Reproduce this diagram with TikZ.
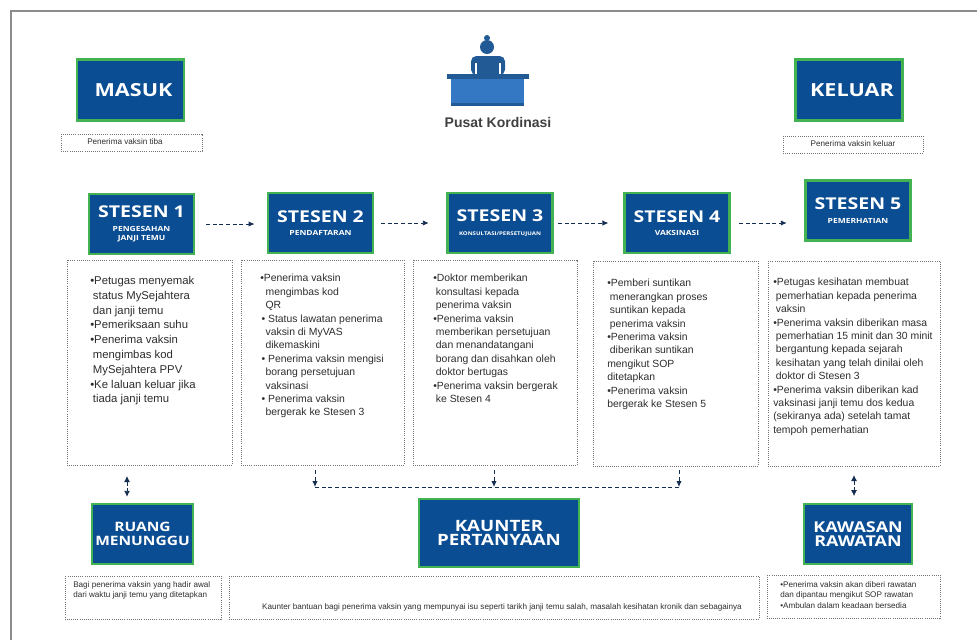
\documentclass[tikz,border=0pt]{standalone}
\usepackage{fontspec}
\setmainfont{Liberation Sans}
\newfontfamily\titlefont[FakeStretch=1.2]{Open Sans}
\usepackage{tikz}
\usetikzlibrary{positioning}
\usetikzlibrary{arrows.meta}
\definecolor{boxnavy}{RGB}{11,77,146}
\definecolor{boxgreen}{RGB}{66,178,82}
\definecolor{deskblue}{RGB}{52,120,196}
\definecolor{desknavy}{RGB}{34,90,150}
\definecolor{flowink}{RGB}{20,45,80}
\definecolor{bodyink}{RGB}{45,45,45}
\newcommand{\stnname}[1]{{\fontsize{12.2}{14}\selectfont\titlefont\bfseries #1}}
\newcommand{\stnsub}[1]{{\fontsize{5.3}{7}\selectfont\titlefont\bfseries #1}}
\tikzset{
    titlebox/.style={draw=boxgreen,fill=boxnavy,line width=1.8pt,text=white,align=center,
        inner sep=0pt,minimum width=79pt,minimum height=45pt,font=\fontsize{7}{7}\selectfont\titlefont\bfseries},
    dotbox/.style={draw=black!55,densely dotted,line width=0.6pt},
    bodytext/.style={anchor=north west,align=left,inner sep=0pt,text=bodyink,
        font=\fontsize{7.8}{10.05}\selectfont},
    smalltext/.style={align=left,inner sep=0pt,text=bodyink,font=\fontsize{6.1}{8}\selectfont},
    flowline/.style={draw=flowink,densely dashed,line width=0.7pt,-{Latex[length=4.5pt,width=4pt]}},
    bothline/.style={draw=flowink,densely dashed,line width=0.7pt,{Latex[length=4.5pt,width=4.5pt]}-{Latex[length=4.5pt,width=4.5pt]}}
}
\begin{document}
\begin{tikzpicture}[x=0.75pt,y=-0.75pt]
    \useasboundingbox (0,0) rectangle (977,640);
    % outer frame
    \draw[black!45,line width=0.9pt] (11,640) -- (11,11) -- (977,11);
    % top row
    \node[titlebox,minimum width=80pt,minimum height=46pt,font=\fontsize{13.5}{18}\selectfont\titlefont\bfseries] at (130.5,90) (nmasuk) {\hspace{4.5pt}MASUK};
    \node[titlebox,minimum width=80pt,minimum height=46pt,font=\fontsize{13.5}{18}\selectfont\titlefont\bfseries] at (849,90) (nkeluar) {\hspace{4.5pt}KELUAR};
    \draw[dotbox] (61,134) rectangle (202,151);
    \node[smalltext] at (125,142) (nmasukd) {Penerima vaksin tiba};
    \draw[dotbox] (783,136) rectangle (923,153);
    \node[smalltext] at (853,144) (nkeluard) {Penerima vaksin keluar};
    % desk and person
    \fill[deskblue] (451,78) rectangle (524,105);
    \fill[desknavy] (447,74) rectangle (529,79);
    \fill[desknavy] (451,103) rectangle (524,106);
    \fill[desknavy] (487,38) circle (3);
    \fill[desknavy] (487,47) circle (7);
    \fill[desknavy,rounded corners=4pt] (471,75) -- (471,56) -- (505,56) -- (505,75) -- cycle;
    \fill[white] (475,63) rectangle (477,74);
    \fill[white] (499,63) rectangle (501,74);
    \node[font=\fontsize{10.5}{12}\selectfont\bfseries,text=black!75] at (498,122) (ncentre) {Pusat Kordinasi};
    % stations
    \node[titlebox] at (141.5,224) (nst1) {\stnname{STESEN 1}\\[3pt]\stnsub{PENGESAHAN}\\\stnsub{JANJI TEMU}};
    \node[titlebox] at (320.5,223) (nst2) {\stnname{STESEN 2}\\[3pt]\stnsub{PENDAFTARAN}};
    \node[titlebox] at (500,223) (nst3) {\stnname{STESEN 3}\\[3pt]{\fontsize{3.8}{5}\selectfont\titlefont\bfseries KONSULTASI/PERSETUJUAN}};
    \node[titlebox] at (677,223) (nst4) {\stnname{STESEN 4}\\[3pt]\stnsub{VAKSINASI}};
    \node[titlebox] at (858,210.5) (nst5) {\stnname{STESEN 5}\\[3pt]\stnsub{PEMERHATIAN}};
    % arrows between stations
    \draw[flowline,shorten <=8pt,shorten >=9pt] (nst1.east) -- (nst1.east -| nst2.west);
    \draw[flowline,shorten <=5pt,shorten >=13pt] (nst2.east) -- (nst2.east -| nst3.west);
    \draw[flowline,shorten <=3pt,shorten >=11pt] (nst3.east) -- (nst3.east -| nst4.west);
    \draw[flowline,shorten <=6pt,shorten >=13pt] (nst4.east) -- (nst4.east -| nst5.west);
    % text boxes
    \draw[dotbox] (67,260) rectangle (232,465);
    \node[bodytext,font=\fontsize{8.5}{11.1}\selectfont] at (90,276) (nt1) {•Petugas menyemak\\\hspace{2pt}status MySejahtera\\\hspace{2pt}dan janji temu\\•Pemeriksaan suhu\\•Penerima vaksin\\\hspace{2pt}mengimbas kod\\\hspace{2pt}MySejahtera PPV\\•Ke laluan keluar jika\\\hspace{2pt}tiada janji temu};
    \draw[dotbox] (241,260) rectangle (404,465);
    \node[bodytext] at (260,274) (nt2) {•Penerima vaksin\\\hspace{4pt}mengimbas kod\\\hspace{4pt}QR\\\hspace{1pt}• Status lawatan penerima\\\hspace{4pt}vaksin di MyVAS\\\hspace{4pt}dikemaskini\\\hspace{1pt}• Penerima vaksin mengisi\\\hspace{4pt}borang persetujuan\\\hspace{4pt}vaksinasi\\\hspace{1pt}• Penerima vaksin\\\hspace{4pt}bergerak ke Stesen 3};
    \draw[dotbox] (413,260) rectangle (577,465);
    \node[bodytext] at (433,274) (nt3) {•Doktor memberikan\\\hspace{2pt}konsultasi kepada\\\hspace{2pt}penerima vaksin\\•Penerima vaksin\\\hspace{2pt}memberikan persetujuan\\\hspace{2pt}dan menandatangani\\\hspace{2pt}borang dan disahkan oleh\\\hspace{2pt}doktor bertugas\\•Penerima vaksin bergerak\\\hspace{2pt}ke Stesen 4};
    \draw[dotbox] (593,261) rectangle (758,466);
    \node[bodytext] at (607,279) (nt4) {•Pemberi suntikan\\\hspace{2pt}menerangkan proses\\\hspace{2pt}suntikan kepada\\\hspace{2pt}penerima vaksin\\•Penerima vaksin\\\hspace{2pt}diberikan suntikan\\mengikut SOP\\ditetapkan\\•Penerima vaksin\\bergerak ke Stesen 5};
    \draw[dotbox] (768,261) rectangle (940,466);
    \node[bodytext] at (773,278) (nt5) {•Petugas kesihatan membuat\\\hspace{2pt}pemerhatian kepada penerima\\\hspace{2pt}vaksin\\•Penerima vaksin diberikan masa\\\hspace{2pt}pemerhatian 15 minit dan 30 minit\\\hspace{2pt}bergantung kepada sejarah\\\hspace{2pt}kesihatan yang telah dinilai oleh\\\hspace{2pt}doktor di Stesen 3\\•Penerima vaksin diberikan kad\\vaksinasi janji temu dos kedua\\(sekiranya ada) setelah tamat\\tempoh pemerhatian};
    % bottom row
    \node[titlebox,minimum width=76pt,minimum height=45pt,font=\fontsize{9.7}{10.5}\selectfont\titlefont\bfseries] at (142.5,534) (nruang) {RUANG\\MENUNGGU};
    \node[titlebox,minimum width=120pt,minimum height=51pt,font=\fontsize{11.7}{10.5}\selectfont\titlefont\bfseries] at (499,533) (nkaunter) {KAUNTER\\PERTANYAAN};
    \node[titlebox,minimum width=81pt,minimum height=45pt,font=\fontsize{11.2}{10.5}\selectfont\titlefont\bfseries] at (858,534) (nkawasan) {KAWASAN\\RAWATAN};
    % arrows to the bottom row
    \coordinate (nup1) at (127,476);
    \coordinate (nup5) at (854,475);
    \draw[bothline,shorten >=4.5pt] (nup1) -- (nup1 |- nruang.north);
    \draw[bothline,shorten >=5pt] (nup5) -- (nup5 |- nkawasan.north);
    \coordinate (nd2) at (315,470);
    \coordinate (nd3) at (494,470);
    \coordinate (nd4) at (679,470);
    \coordinate (nh2) at (315,487);
    \coordinate (nh4) at (679,487);
    \draw[flowink,densely dashed,line width=0.7pt] (nh2) -- (nh4);
    \draw[flowline] (nd2) -- (nh2);
    \draw[flowline] (nd3) -- (nd3 |- nh2);
    \draw[flowline] (nd4) -- (nh4);
    % bottom text boxes
    \draw[dotbox] (65,576) rectangle (221,619);
    \node[smalltext,anchor=north west] at (73,581) (nrd) {Bagi penerima vaksin yang hadir awal\\dari waktu janji temu yang ditetapkan};
    \draw[dotbox] (229,576) rectangle (759,619);
    \node[smalltext] at (502,607) (nkd) {Kaunter bantuan bagi penerima vaksin yang mempunyai isu seperti tarikh janji temu salah, masalah kesihatan kronik dan sebagainya};
    \draw[dotbox] (767,575) rectangle (940,618);
    \node[smalltext,anchor=north west] at (780,581) (nwd) {•Penerima vaksin akan diberi rawatan\\dan dipantau mengikut SOP rawatan\\•Ambulan dalam keadaan bersedia};
\end{tikzpicture}
\end{document}
